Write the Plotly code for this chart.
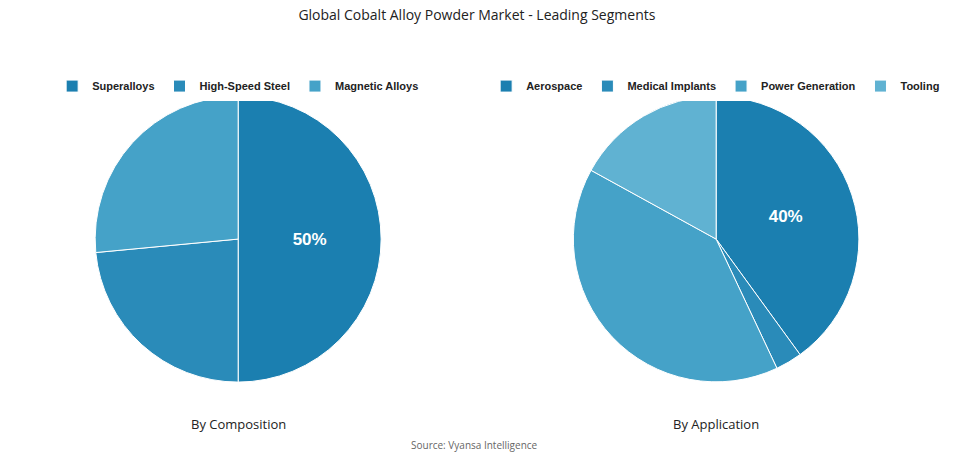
import plotly.graph_objects as go

comp_labels = ["Superalloys", "High-Speed Steel", "Magnetic Alloys"]
comp_values = [50, 23.5, 26.5]
comp_colors = ["#1b7fb0", "#2a8bb9", "#45a2c8"]

app_labels = ["Aerospace", "Medical Implants", "Power Generation", "Tooling"]
app_values = [40, 3, 40, 17]
app_colors = ["#1b7fb0", "#2a8bb9", "#45a2c8", "#60b2d2"]

def tt(vals):
    m = max(vals)
    out = []
    shown = False
    for v in vals:
        if v == m and not shown:
            out.append("<b>%{percent:.0%}</b>")
            shown = True
        else:
            out.append("")
    return out

fig = go.Figure()
fig.add_trace(go.Pie(labels=comp_labels, values=comp_values, sort=False, direction="clockwise",
                     rotation=0, marker=dict(colors=comp_colors, line=dict(color="white", width=1)),
                     texttemplate=tt(comp_values), textposition="inside", insidetextorientation="horizontal",
                     textfont=dict(size=17, color="white", family="Liberation Sans"),
                     domain=dict(x=[0.091, 0.391], y=[0.176, 0.806]), legend="legend", hoverinfo="label+percent"))
fig.add_trace(go.Pie(labels=app_labels, values=app_values, sort=False, direction="clockwise",
                     rotation=0, marker=dict(colors=app_colors, line=dict(color="white", width=1)),
                     texttemplate=tt(app_values), textposition="inside", insidetextorientation="horizontal",
                     textfont=dict(size=17, color="white", family="Liberation Sans"),
                     domain=dict(x=[0.592, 0.891], y=[0.176, 0.806]), legend="legend2", hoverinfo="label+percent"))

lf = dict(size=11, color="#222", family="Liberation Sans", weight="bold")
fig.update_layout(
    width=955, height=454, margin=dict(l=0, r=0, t=0, b=0, autoexpand=False),
    paper_bgcolor="white", plot_bgcolor="white",
    title=dict(text="Global Cobalt Alloy Powder Market - Leading Segments", x=0.491, y=0.985,
               xanchor="center", yanchor="middle", font=dict(size=14, color="#222", family="Open Sans")),
    legend=dict(orientation="h", x=0.241, xanchor="center", y=0.828, yanchor="middle", font=lf,
                itemwidth=30),
    legend2=dict(orientation="h", x=0.741, xanchor="center", y=0.828, yanchor="middle", font=lf,
                 itemwidth=30),
    annotations=[
        dict(text="By Composition", x=0.19, y=0.0587, xref="paper", yref="paper", showarrow=False,
             font=dict(size=13, color="#222", family="Open Sans")),
        dict(text="By Application", x=0.788, y=0.0587, xref="paper", yref="paper", showarrow=False,
             font=dict(size=13, color="#222", family="Open Sans")),
        dict(text="Source: Vyansa Intelligence", x=0.488, y=0.018, xref="paper", yref="paper",
             showarrow=False, font=dict(size=10, color="#666", family="Open Sans")),
    ],
)
fig.write_html("out.html")
